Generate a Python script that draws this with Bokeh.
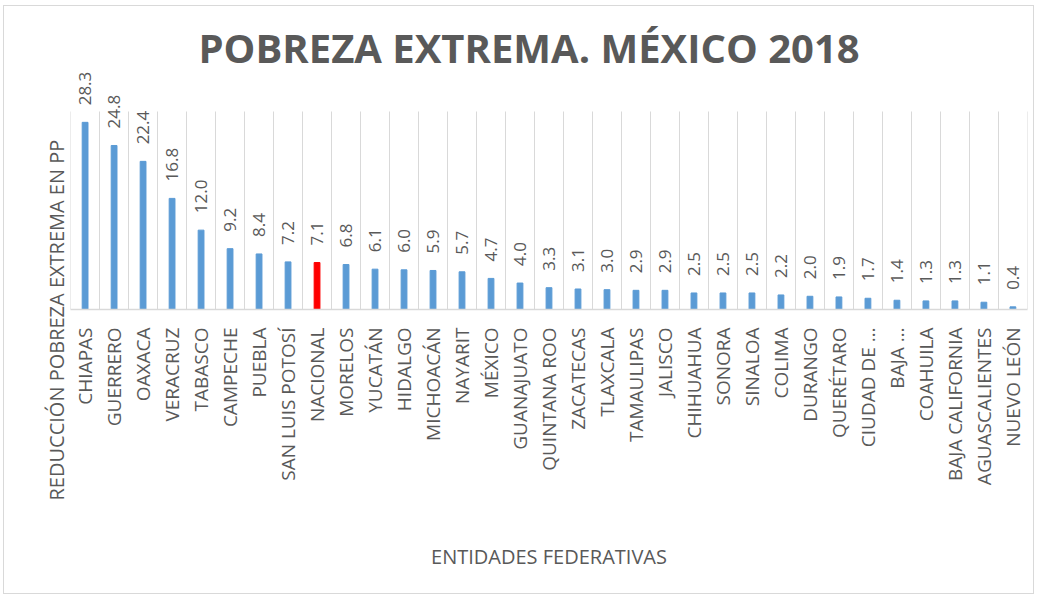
import math
from bokeh.plotting import figure
from bokeh.models import FactorRange, Range1d, ColumnDataSource, FixedTicker, Title
from bokeh.core.properties import value
from bokeh.embed import file_html
from bokeh.resources import INLINE

# ---------------- data ----------------
entidades = [
    "CHIAPAS", "GUERRERO", "OAXACA", "VERACRUZ", "TABASCO", "CAMPECHE", "PUEBLA",
    "SAN LUIS POTOSÍ", "NACIONAL", "MORELOS", "YUCATÁN", "HIDALGO", "MICHOACÁN",
    "NAYARIT", "MÉXICO", "GUANAJUATO", "QUINTANA ROO", "ZACATECAS", "TLAXCALA",
    "TAMAULIPAS", "JALISCO", "CHIHUAHUA", "SONORA", "SINALOA", "COLIMA", "DURANGO",
    "QUERÉTARO", "CIUDAD DE …", "BAJA …", "COAHUILA", "BAJA CALIFORNIA",
    "AGUASCALIENTES", "NUEVO LEÓN",
]
reduccion = [
    28.3, 24.8, 22.4, 16.8, 12.0, 9.2, 8.4,
    7.2, 7.1, 6.8, 6.1, 6.0, 5.9,
    5.7, 4.7, 4.0, 3.3, 3.1, 3.0,
    2.9, 2.9, 2.5, 2.5, 2.5, 2.2, 2.0,
    1.9, 1.7, 1.4, 1.3, 1.3,
    1.1, 0.4,
]
destacado = "NACIONAL"
titulo = "POBREZA EXTREMA. MÉXICO 2018"
titulo_y = "REDUCCIÓN POBREZA EXTREMA  EN PP"
titulo_x = "ENTIDADES FEDERATIVAS"
eje_max = 30

# ---------------- styles ----------------
AZUL = "#5B9BD5"
ROJO = "#FF0000"
GRIS_TXT = "#595959"
GRIS_LIN = "#D9D9D9"
FONT = "Open Sans"

colores = [ROJO if e == destacado else AZUL for e in entidades]
etiquetas = [f"{v:.1f}" for v in reduccion]
src = ColumnDataSource(dict(ent=entidades, val=reduccion, color=colores, lab=etiquetas))

p = figure(
    x_range=FactorRange(*entidades, range_padding=0.0002),
    y_range=Range1d(0, 37.5),
    width=1031, height=589,
    output_backend="svg", toolbar_location=None,
    min_border_left=66, min_border_right=8,
    min_border_top=55, min_border_bottom=286,
)
p.styles = {"border": "1px solid #D9D9D9", "margin-left": "3px", "margin-top": "5px"}
p.outline_line_color = None
p.background_fill_color = "white"
p.border_fill_color = "white"

p.vbar(x="ent", top="val", width=0.2, color="color", source=src)
p.text(x="ent", y="val", text="lab", source=src, angle=math.pi / 2,
       text_align="left", text_baseline="middle", y_offset=-17,
       text_font=value(FONT), text_font_size="17px", text_color=GRIS_TXT)

# grid lines between categories, only up to the axis maximum
p.xgrid.ticker = FixedTicker(ticks=list(range(len(entidades) + 1)))
p.xgrid.cross_bounds = (0, eje_max)
p.xgrid.grid_line_color = GRIS_LIN
p.xgrid.grid_line_width = 1
p.ygrid.visible = False

# x axis
ax = p.xaxis[0]
ax.major_label_orientation = math.pi / 2
ax.axis_line_color = GRIS_LIN
ax.axis_line_width = 1.5
ax.major_tick_line_color = None
ax.minor_tick_line_color = None
ax.major_label_standoff = 12
ax.major_label_text_font = FONT
ax.major_label_text_font_size = "19px"
ax.major_label_text_color = GRIS_TXT
ax.axis_label = titulo_x
ax.axis_label_text_font = FONT
ax.axis_label_text_font_size = "20px"
ax.axis_label_text_font_style = "normal"
ax.axis_label_text_color = GRIS_TXT
ax.axis_label_standoff = 55

p.yaxis.visible = False

# title
p.title.text = titulo
p.title.align = "left"
p.title.offset = 128
p.title.text_font = FONT
p.title.text_font_size = "40px"
p.title.text_font_style = "bold"
p.title.text_color = GRIS_TXT
p.title.standoff = -27

# y axis title
yt = Title(text=titulo_y, align="left", offset=-191, standoff=1,
           text_font=FONT, text_font_size="20px", text_font_style="normal",
           text_color=GRIS_TXT)
p.add_layout(yt, "left")

open("out.html", "w").write(file_html(p, INLINE))
